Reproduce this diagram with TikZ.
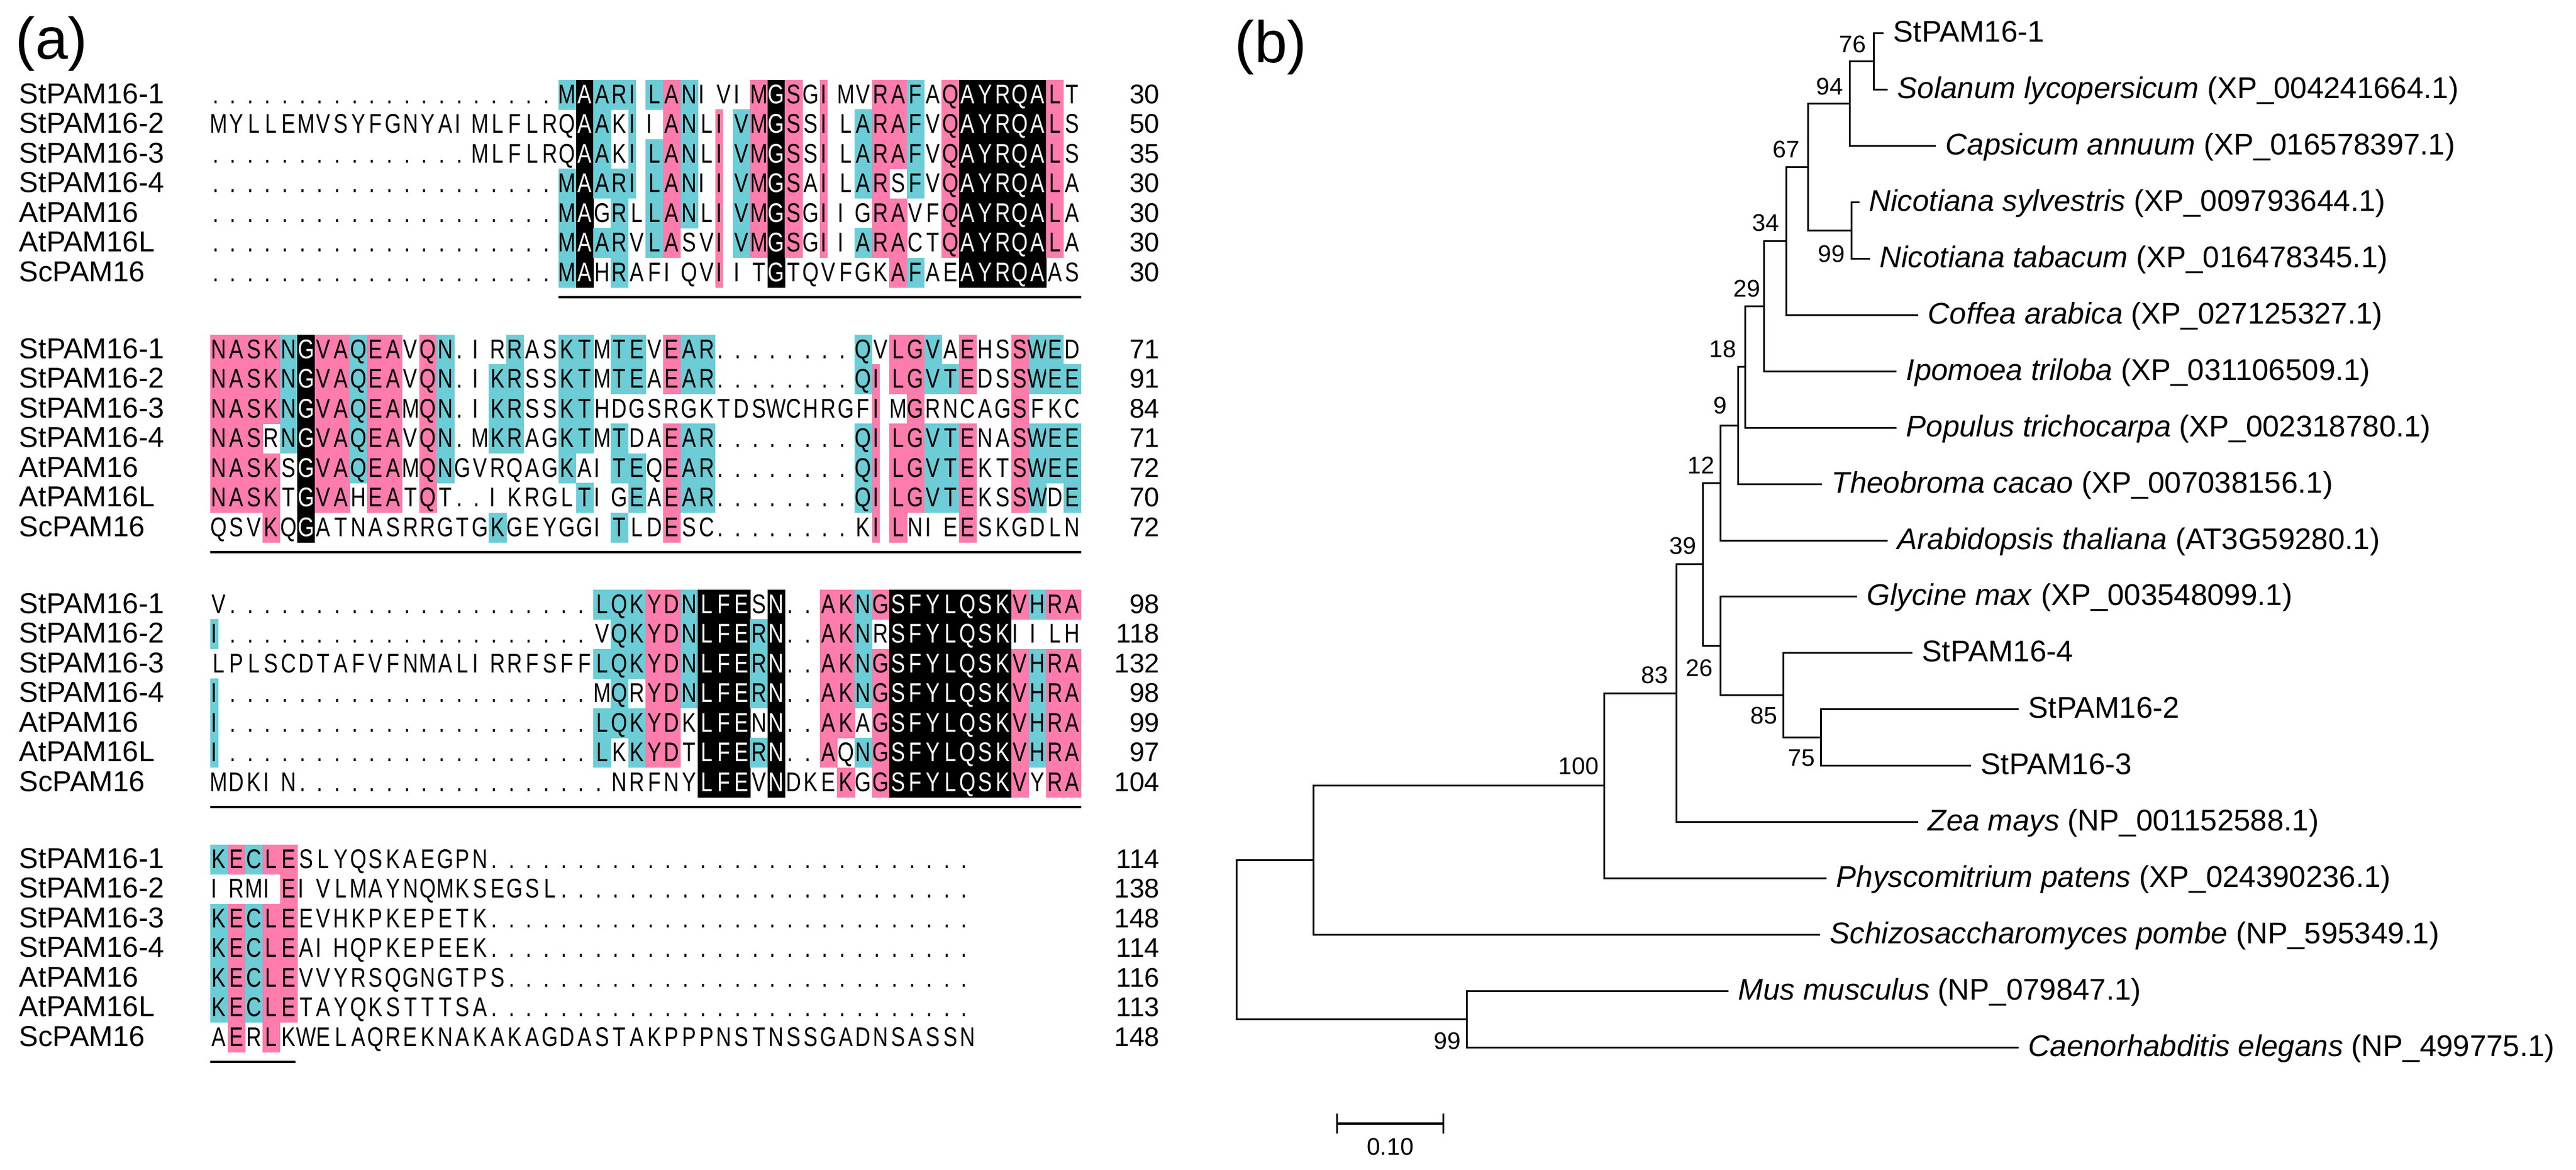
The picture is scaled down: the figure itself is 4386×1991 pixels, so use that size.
\documentclass[tikz,border=0pt]{standalone}
\usepackage{fontspec}
\setmainfont{Liberation Sans}
\usepackage{graphicx}
\definecolor{alncyan}{RGB}{108,205,214}
\definecolor{alnpink}{RGB}{255,124,172}
\newcommand\seqfont{\fontsize{11.5pt}{13pt}\selectfont}
\newcommand\labfont{\fontsize{12.25pt}{14pt}\selectfont}
\newcommand\leaffont{\fontsize{12.75pt}{15pt}\selectfont}
\newcommand\bootfont{\fontsize{10.25pt}{12pt}\selectfont}
\newcommand\panelfont{\fontsize{25pt}{30pt}\selectfont}

\tikzset{
  seqchar/.style={anchor=base,inner sep=0pt,font=\seqfont},
  rowlabel/.style={anchor=base west,inner sep=0pt,font=\labfont},
  rownum/.style={anchor=base east,inner sep=0pt,font=\seqfont},
  blockline/.style={line width=1pt},
  branch/.style={line width=0.75pt,line cap=rect},
  leaf/.style={anchor=base west,inner sep=0pt,font=\leaffont},
  boot/.style={inner sep=0pt,font=\bootfont},
  panel/.style={anchor=base west,inner sep=0pt,font=\panelfont},
}

% one alignment cell: #1 column, #2 baseline, #3 char, #4 identity count, #5 x offset, #6 box width
\newcommand\alncell[6]{%
  \pgfmathsetmacro\alnx{358+(#1-1)*29.65}%
  \ifnum#4>3\relax
    \ifnum#4=7\relax\def\alnfc{black}%
    \else\ifnum#4=6\relax\def\alnfc{alnpink}\else\def\alnfc{alncyan}\fi\fi
    \fill[fill=\alnfc] (\alnx,#2-40.5) rectangle ++(#6,51);%
  \fi
  \ifnum#4=7\relax\def\alntc{white}\else\def\alntc{black}\fi
  \node[seqchar,text=\alntc] (s#1-#2) at (\alnx+#5,#2) {\scalebox{0.78}[1]{#3}};%
}

\ExplSyntaxOn
\int_new:N \l_aln_cnt_int
\int_new:N \l_aln_len_int
\tl_new:N \l_aln_ch_tl
\tl_new:N \l_aln_dx_tl
\tl_new:N \l_aln_bw_tl
\tl_new:N \l_aln_base_tl
\int_step_inline:nn { 7 } { \tl_new:c { l_aln_row_#1_tl } }
\cs_new:Npn \dd #1 { \prg_replicate:nn {#1} {.} }
\NewDocumentCommand \AlnBlock { m m m m m m m m }
  {
    \tl_set:Nn \l_aln_base_tl {#1}
    \tl_set:cx { l_aln_row_1_tl } {#2}
    \tl_set:cx { l_aln_row_2_tl } {#3}
    \tl_set:cx { l_aln_row_3_tl } {#4}
    \tl_set:cx { l_aln_row_4_tl } {#5}
    \tl_set:cx { l_aln_row_5_tl } {#6}
    \tl_set:cx { l_aln_row_6_tl } {#7}
    \tl_set:cx { l_aln_row_7_tl } {#8}
    \int_set:Nn \l_aln_len_int { \tl_count:c { l_aln_row_1_tl } }
    \int_step_variable:nNn { \l_aln_len_int } \l_aln_col_tl
      {
        \int_step_variable:nNn { 7 } \l_aln_r_tl
          {
            \tl_set:Nx \l_aln_ch_tl
              { \tl_item:cn { l_aln_row_ \l_aln_r_tl _tl } { \l_aln_col_tl } }
            \int_zero:N \l_aln_cnt_int
            \int_step_variable:nNn { 7 } \l_aln_s_tl
              {
                \str_if_eq:eeT { \l_aln_ch_tl }
                  { \tl_item:cn { l_aln_row_ \l_aln_s_tl _tl } { \l_aln_col_tl } }
                  { \int_incr:N \l_aln_cnt_int }
              }
            \tl_set:Nn \l_aln_dx_tl { 14.8 }
            \tl_set:Nn \l_aln_bw_tl { 30.2 }
            \str_if_eq:eeT { \l_aln_ch_tl } { . }
              { \int_zero:N \l_aln_cnt_int \tl_set:Nn \l_aln_dx_tl { 9 } }
            \str_if_eq:eeT { \l_aln_ch_tl } { I }
              { \tl_set:Nn \l_aln_dx_tl { 6.5 } \tl_set:Nn \l_aln_bw_tl { 13.5 } }
            \use:x
              {
                \exp_not:N \alncell
                  { \l_aln_col_tl }
                  { \fp_eval:n { \l_aln_base_tl + 50.5 * ( \l_aln_r_tl - 1 ) } }
                  { \l_aln_ch_tl }
                  { \int_use:N \l_aln_cnt_int }
                  { \l_aln_dx_tl }
                  { \l_aln_bw_tl }
              }
          }
      }
  }
\ExplSyntaxOff

\newcommand\clade[3]{\draw[branch] (#2) -- (#1 |- #2) -- (#1 |- #3) -- (#3);}

\begin{document}
\begin{tikzpicture}[x=0.25pt,y=-0.25pt]
\useasboundingbox (0,0) rectangle (4386,1991);

% ---------------- panel labels
\node[panel] (pa) at (26,100) {(a)};
\node[panel] (pb) at (2102,106) {(b)};

% ---------------- alignment
\AlnBlock{176}
 {\dd{20}MAARILANIVIMGSGIMVRAFAQAYRQALT}
 {MYLLEMVSYFGNYAIMLFLRQAAKIIANLIVMGSSILARAFVQAYRQALS}
 {\dd{15}MLFLRQAAKILANLIVMGSSILARAFVQAYRQALS}
 {\dd{20}MAARILANIIVMGSAILARSFVQAYRQALA}
 {\dd{20}MAGRLLANLIVMGSGIIGRAVFQAYRQALA}
 {\dd{20}MAARVLASVIVMGSGIIARACTQAYRQALA}
 {\dd{20}MAHRAFIQVIITGTQVFGKAFAEAYRQAAS}
\AlnBlock{610}
 {NASKNGVAQEAVQN.IRRASKTMTEVEAR\dd{8}QVLGVAEHSSWED}
 {NASKNGVAQEAVQN.IKRSSKTMTEAEAR\dd{8}QILGVTEDSSWEE}
 {NASKNGVAQEAMQN.IKRSSKTHDGSRGKTDSWCHRGFIMGRNCAGSFKC}
 {NASRNGVAQEAVQN.MKRAGKTMTDAEAR\dd{8}QILGVTENASWEE}
 {NASKSGVAQEAMQNGVRQAGKAITEQEAR\dd{8}QILGVTEKTSWEE}
 {NASKTGVAHEATQT..IKRGLTIGEAEAR\dd{8}QILGVTEKSSWDE}
 {QSVKQGATNASRRGTGKGEYGGITLDESC\dd{8}KILNIEESKGDLN}
\AlnBlock{1044}
 {V\dd{21}LQKYDNLFESN..AKNGSFYLQSKVHRA}
 {I\dd{21}VQKYDNLFERN..AKNRSFYLQSKIILH}
 {LPLSCDTAFVFNMALIRRFSFFLQKYDNLFERN..AKNGSFYLQSKVHRA}
 {I\dd{21}MQRYDNLFERN..AKNGSFYLQSKVHRA}
 {I\dd{21}LQKYDKLFENN..AKAGSFYLQSKVHRA}
 {I\dd{21}LKKYDTLFERN..AQNGSFYLQSKVHRA}
 {MDKIN\dd{18}NRFNYLFEVNDKEKGGSFYLQSKVYRA}
\AlnBlock{1478}
 {KECLESLYQSKAEGPN\dd{28}}
 {IRMIEIVLMAYNQMKSEGSL\dd{24}}
 {KECLEEVHKPKEPETK\dd{28}}
 {KECLEAIHQPKEPEEK\dd{28}}
 {KECLEVVYRSQGNGTPS\dd{27}}
 {KECLETAYQKSTTTSA\dd{28}}
 {AERLKWELAQREKNAKAKAGDASTAKPPPNSTNSSGADNSASSN}

\foreach \by [count=\b] in {176,610,1044,1478}
  \foreach \lab [count=\i from 0] in {StPAM16-1,StPAM16-2,StPAM16-3,StPAM16-4,AtPAM16,AtPAM16L,ScPAM16}
    \node[rowlabel] (lab\b-\i) at (32,\by+50.5*\i) {\lab};

\foreach \n [count=\i from 0] in {30,50,35,30,30,30,30}
  \node[rownum] (numa\i) at (1975,176+50.5*\i) {\n};
\foreach \n [count=\i from 0] in {71,91,84,71,72,70,72}
  \node[rownum] (numb\i) at (1975,610+50.5*\i) {\n};
\foreach \n [count=\i from 0] in {98,118,132,98,99,97,104}
  \node[rownum] (numc\i) at (1975,1044+50.5*\i) {\n};
\foreach \n [count=\i from 0] in {114,138,148,114,116,113,148}
  \node[rownum] (numd\i) at (1975,1478+50.5*\i) {\n};

\draw[blockline] (951,506) -- (1841,506);
\draw[blockline] (358,940) -- (1841,940);
\draw[blockline] (358,1374) -- (1841,1374);
\draw[blockline] (358,1808) -- (503,1808);

% ---------------- tree
\coordinate (t0) at (3205,56);
\coordinate (t1) at (3212,152);
\coordinate (t2) at (3294,248);
\coordinate (t3) at (3164,344);
\coordinate (t4) at (3182,440);
\coordinate (t5) at (3264,536);
\coordinate (t6) at (3227,632);
\coordinate (t7) at (3227,728);
\coordinate (t8) at (3100,824);
\coordinate (t9) at (3212,920);
\coordinate (t10) at (3160,1015);
\coordinate (t11) at (3254,1111);
\coordinate (t12) at (3435,1207);
\coordinate (t13) at (3354,1303);
\coordinate (t14) at (3264,1399);
\coordinate (t15) at (3108,1495);
\coordinate (t16) at (3097,1591);
\coordinate (t17) at (2941,1687);
\coordinate (t18) at (3435,1783);

\coordinate (n76) at (3190,104);
\coordinate (n94) at (3149,176);
\coordinate (n99a) at (3152,392);
\coordinate (n67) at (3078,284);
\coordinate (n34) at (3041,410);
\coordinate (n29) at (3003,521);
\coordinate (n18) at (2971,624);
\coordinate (n9) at (2959,724);
\coordinate (n12) at (2929,822);
\coordinate (n75) at (3100,1255);
\coordinate (n85) at (3036,1183);
\coordinate (n26) at (2929,1099);
\coordinate (n39) at (2899,960);
\coordinate (n83) at (2854,1180);
\coordinate (n100) at (2731,1337);
\coordinate (nX) at (2236,1464);
\coordinate (n99b) at (2497,1735);
\coordinate (root) at (2105,1600);

\clade{n76}{t0}{t1}
\clade{n94}{n76}{t2}
\clade{n99a}{t3}{t4}
\clade{n67}{n94}{n99a}
\clade{n34}{n67}{t5}
\clade{n29}{n34}{t6}
\clade{n18}{n29}{t7}
\clade{n9}{n18}{t8}
\clade{n12}{n9}{t9}
\clade{n75}{t12}{t13}
\clade{n85}{t11}{n75}
\clade{n26}{t10}{n85}
\clade{n39}{n12}{n26}
\clade{n83}{n39}{t14}
\clade{n100}{n83}{t15}
\clade{nX}{n100}{t16}
\clade{n99b}{t17}{t18}
\clade{root}{nX}{n99b}

\path (t0) ++(18,15) node[leaf] (l0) {StPAM16-1};
\path (t1) ++(18,15) node[leaf] (l1) {\textit{Solanum lycopersicum} (XP\_004241664.1)};
\path (t2) ++(18,15) node[leaf] (l2) {\textit{Capsicum annuum} (XP\_016578397.1)};
\path (t3) ++(18,15) node[leaf] (l3) {\textit{Nicotiana sylvestris} (XP\_009793644.1)};
\path (t4) ++(18,15) node[leaf] (l4) {\textit{Nicotiana tabacum} (XP\_016478345.1)};
\path (t5) ++(18,15) node[leaf] (l5) {\textit{Coffea arabica} (XP\_027125327.1)};
\path (t6) ++(18,15) node[leaf] (l6) {\textit{Ipomoea triloba} (XP\_031106509.1)};
\path (t7) ++(18,15) node[leaf] (l7) {\textit{Populus trichocarpa} (XP\_002318780.1)};
\path (t8) ++(18,15) node[leaf] (l8) {\textit{Theobroma cacao} (XP\_007038156.1)};
\path (t9) ++(18,15) node[leaf] (l9) {\textit{Arabidopsis thaliana} (AT3G59280.1)};
\path (t10) ++(18,15) node[leaf] (l10) {\textit{Glycine max} (XP\_003548099.1)};
\path (t11) ++(18,15) node[leaf] (l11) {StPAM16-4};
\path (t12) ++(18,15) node[leaf] (l12) {StPAM16-2};
\path (t13) ++(18,15) node[leaf] (l13) {StPAM16-3};
\path (t14) ++(18,15) node[leaf] (l14) {\textit{Zea mays} (NP\_001152588.1)};
\path (t15) ++(18,15) node[leaf] (l15) {\textit{Physcomitrium patens} (XP\_024390236.1)};
\path (t16) ++(18,15) node[leaf] (l16) {\textit{Schizosaccharomyces pombe} (NP\_595349.1)};
\path (t17) ++(18,15) node[leaf] (l17) {\textit{Mus musculus} (NP\_079847.1)};
\path (t18) ++(18,15) node[leaf] (l18) {\textit{Caenorhabditis elegans} (NP\_499775.1)};

\node[boot] (b76) at (3154,75) {76};
\node[boot] (b94) at (3115,147) {94};
\node[boot] (b67) at (3041,254) {67};
\node[boot] (b99a) at (3118,432) {99};
\node[boot] (b34) at (3006,379) {34};
\node[boot] (b29) at (2974,491) {29};
\node[boot] (b18) at (2933,594) {18};
\node[boot] (b9) at (2929,690) {9};
\node[boot] (b12) at (2896,792) {12};
\node[boot] (b39) at (2865,929) {39};
\node[boot] (b26) at (2893,1137) {26};
\node[boot] (b83) at (2817,1149) {83};
\node[boot] (b85) at (3003,1218) {85};
\node[boot] (b75) at (3067,1291) {75};
\node[boot] (b100) at (2688,1304) {100};
\node[boot] (b99b) at (2464,1772) {99};

% scale bar
\coordinate (sb1) at (2276,1913);
\coordinate (sb2) at (2457,1913);
\draw[line width=1pt] (sb1) -- (sb2);
\draw[branch] (2276,1897) -- (2276,1928);
\draw[branch] (2457,1897) -- (2457,1928);
\node[boot] (sbl) at (2367,1952) {0.10};
\end{tikzpicture}
\end{document}
